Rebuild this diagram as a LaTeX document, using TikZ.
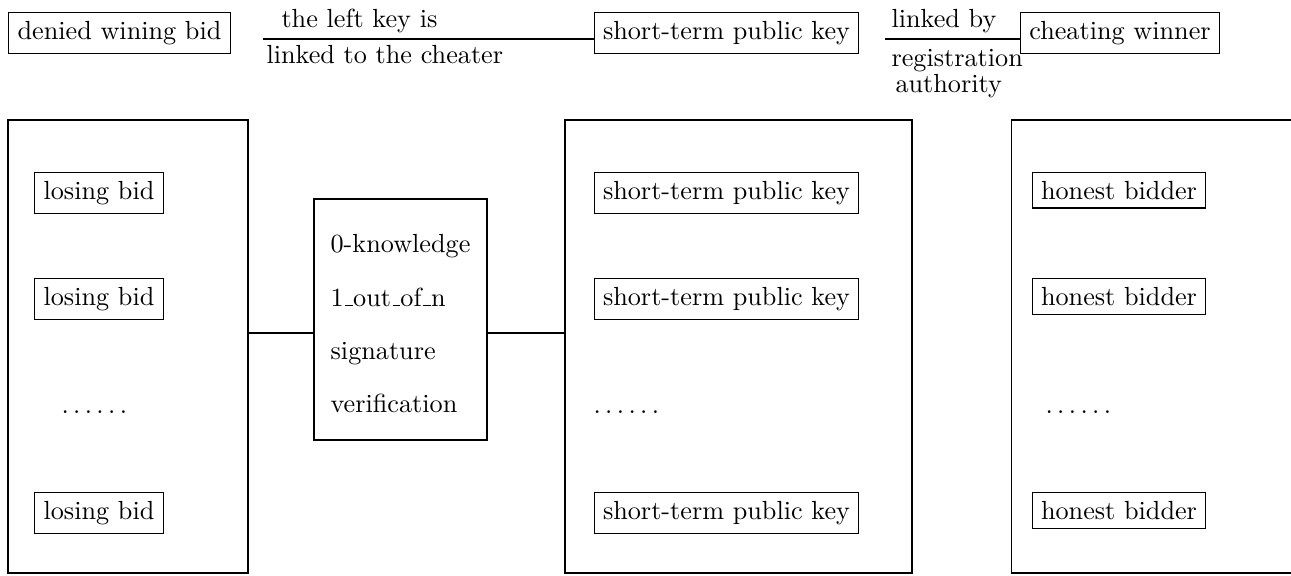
\documentclass[tikz,border=0pt]{standalone}
% classic low-rule underscore and spread-out ellipsis
\newcommand\lowrule{\leavevmode\kern.06em\vbox{\hrule width.3em}}
\newcommand\sixdots{.\kern1.67pt.\kern1.67pt.\kern1.67pt.\kern1.67pt.\kern1.67pt.}
\begin{document}
\begin{tikzpicture}[x=0.3817pt, y=-0.3817pt,
  box/.style={draw, rectangle, inner sep=3.33pt, anchor=base},
  lbl/.style={inner sep=0pt, anchor=base west},
  group/.style={draw, rectangle, inner sep=0pt, minimum height=172.91pt},
  ]
\clip (0,0) rectangle (1291,575);

% top row: the cheating winner chain
\node[box] (denied) at (119.5,39) {denied wining bid};
\node[box] (stk0) at (726.5,39) {short-term public key};
\node[box] (cheat) at (1120,39) {cheating winner};
\coordinate (s1) at (263,0);
\coordinate (s2) at (885,0);
\draw (s1 |- stk0.base) -- (stk0.base west);
\draw (s2 |- cheat.base) -- (cheat.base west);
\node[lbl] (t1) at (281,27) {the left key is};
\node[lbl] (t2) at (266,63.5) {linked to the cheater};
\node[lbl] (t3) at (891,27.5) {linked by};
\node[lbl] (t4) at (891,66.5) {registration};
\node[lbl] (t5) at (895,92.5) {authority};

% three groups
\node[group, minimum width=91.61pt] (gL) at (128,346.5) {};
\node[group, minimum width=132.45pt] (gM) at (738.5,346.5) {};
\node[group, minimum width=132.45pt] (gR) at (1185,346.5) {};

% verification box between the groups
\node[draw, rectangle, align=left, minimum width=66.03pt, minimum height=91.99pt,
  font=\fontsize{10}{20.35}\selectfont] (zk) at (400.5,319.5)
  {\rule{0pt}{10.35pt}0-knowledge\\1\lowrule out\lowrule of\lowrule n\\signature\\verification};
\coordinate (mid) at (0,333);
\draw (gL.east |- mid) -- (zk.west |- mid);
\draw (zk.east |- mid) -- (gM.west |- mid);

% losing bids
\node[box] (lb1) at (99,199) {losing bid};
\node[box] (lb2) at (99,305.5) {losing bid};
\node[lbl] (dL) at (61,413.5) {\sixdots};
\node[box] (lb3) at (99,519) {losing bid};

% short-term public keys
\node[box] (stk1) at (726.5,199) {short-term public key};
\node[box] (stk2) at (726.5,305.5) {short-term public key};
\node[lbl] (dM) at (593,413.5) {\sixdots};
\node[box] (stk3) at (726.5,519) {short-term public key};

% honest bidders
\node[box] (hb1) at (1119,199) {honest bidder};
\node[box] (hb2) at (1119,305.5) {honest bidder};
\node[lbl] (dR) at (1045,413.5) {\sixdots};
\node[box] (hb3) at (1119,519) {honest bidder};
\end{tikzpicture}
\end{document}
